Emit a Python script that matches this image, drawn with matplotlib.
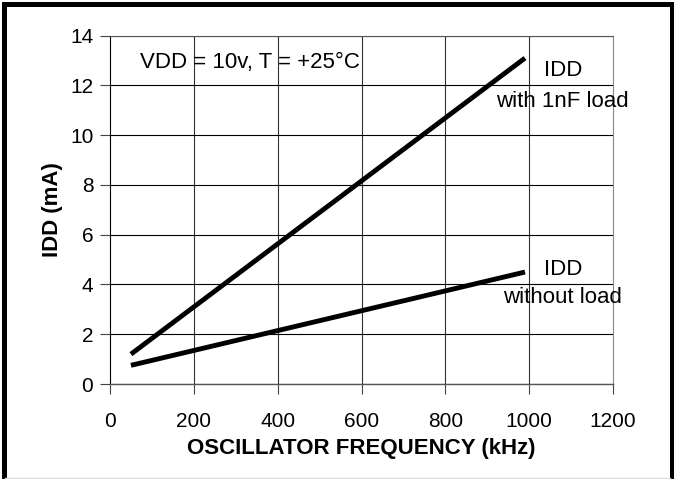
import matplotlib
matplotlib.use('Agg')
import matplotlib.pyplot as plt
from matplotlib.lines import Line2D

# data
freq_khz = [50, 990]
idd_with_load = [1.2, 13.1]
idd_without_load = [0.75, 4.5]
x_ticks = [0, 200, 400, 600, 800, 1000, 1200]
y_ticks = [0, 2, 4, 6, 8, 10, 12, 14]

plt.rcParams['font.family'] = ['Liberation Sans', 'DejaVu Sans']
tick_size = 15
text_size = 16

fig = plt.figure(figsize=(6.74, 4.79), dpi=100)
ax = fig.add_axes([110/674, 1 - 384/479, 503/674, 348.3/479])

ax.plot(freq_khz, idd_with_load, color='black', lw=3.5, solid_capstyle='butt')
ax.plot(freq_khz, idd_without_load, color='black', lw=3.5, solid_capstyle='butt')

ax.set_xlim(0, 1200)
ax.set_ylim(0, 14)
ax.set_xticks(x_ticks)
ax.set_yticks(y_ticks)

# grid: horizontal lines everywhere, vertical only inside
ax.grid(axis='y', color='black', lw=0.8)
for xv in x_ticks[1:-1]:
    ax.axvline(xv, color='#333333', lw=0.8, zorder=1)

ax.tick_params(axis='x', direction='out', length=7, width=0.8, pad=13,
               labelsize=tick_size, color='#444444')
ax.tick_params(axis='y', direction='out', length=7, width=0.8, pad=5,
               labelsize=tick_size, color='#444444')

ax.spines['left'].set_linestyle((0, (2, 1)))
ax.spines['left'].set_linewidth(0.8)
ax.spines['top'].set_linestyle((0, (1, 1)))
ax.spines['top'].set_linewidth(0.8)
ax.spines['top'].set_color('#555555')
ax.spines['right'].set_linestyle((0, (1, 1)))
ax.spines['right'].set_linewidth(0.8)
ax.spines['right'].set_color('#888888')
ax.spines['bottom'].set_color('#555555')
ax.spines['bottom'].set_linewidth(1)

ax.set_xlabel('OSCILLATOR FREQUENCY (kHz)', fontsize=text_size, fontweight='bold')
ax.set_ylabel('IDD (mA)', fontsize=text_size, fontweight='bold')
ax.xaxis.set_label_coords(0.5, -0.184)
ax.xaxis.label.set_va('center')
ax.yaxis.set_label_coords(-0.115, 0.5)
ax.yaxis.label.set_va('center')

ax.text(72, 12.94, 'VDD = 10v, T = +25°C', fontsize=text_size, ha='left', va='center')
ax.text(1080, 12.62, 'IDD', fontsize=text_size, ha='center', va='center', clip_on=False)
ax.text(1080, 11.37, 'with 1nF load', fontsize=text_size, ha='center', va='center', clip_on=False)
ax.text(1080, 4.62, 'IDD', fontsize=text_size, ha='center', va='center', clip_on=False)
ax.text(1080, 3.46, 'without load', fontsize=text_size, ha='center', va='center', clip_on=False)

# outer frame: thick black on top/left/right, light grey bottom
W, H = 674, 479
def fline(x0, y0, x1, y1, color, lw):
    fig.add_artist(Line2D([x0/W, x1/W], [1 - y0/H, 1 - y1/H], color=color, lw=lw,
                          transform=fig.transFigure, solid_capstyle='projecting'))

fline(3.5, 3.5, 671, 3.5, 'black', 3.6)
fline(3.5, 3.5, 3.5, 478, 'black', 3.6)
fline(671.5, 3.5, 671.5, 479, 'black', 3.6)
fline(5, 478, 670, 478, '#dddddd', 1)

fig.savefig('out.png', dpi=100)
